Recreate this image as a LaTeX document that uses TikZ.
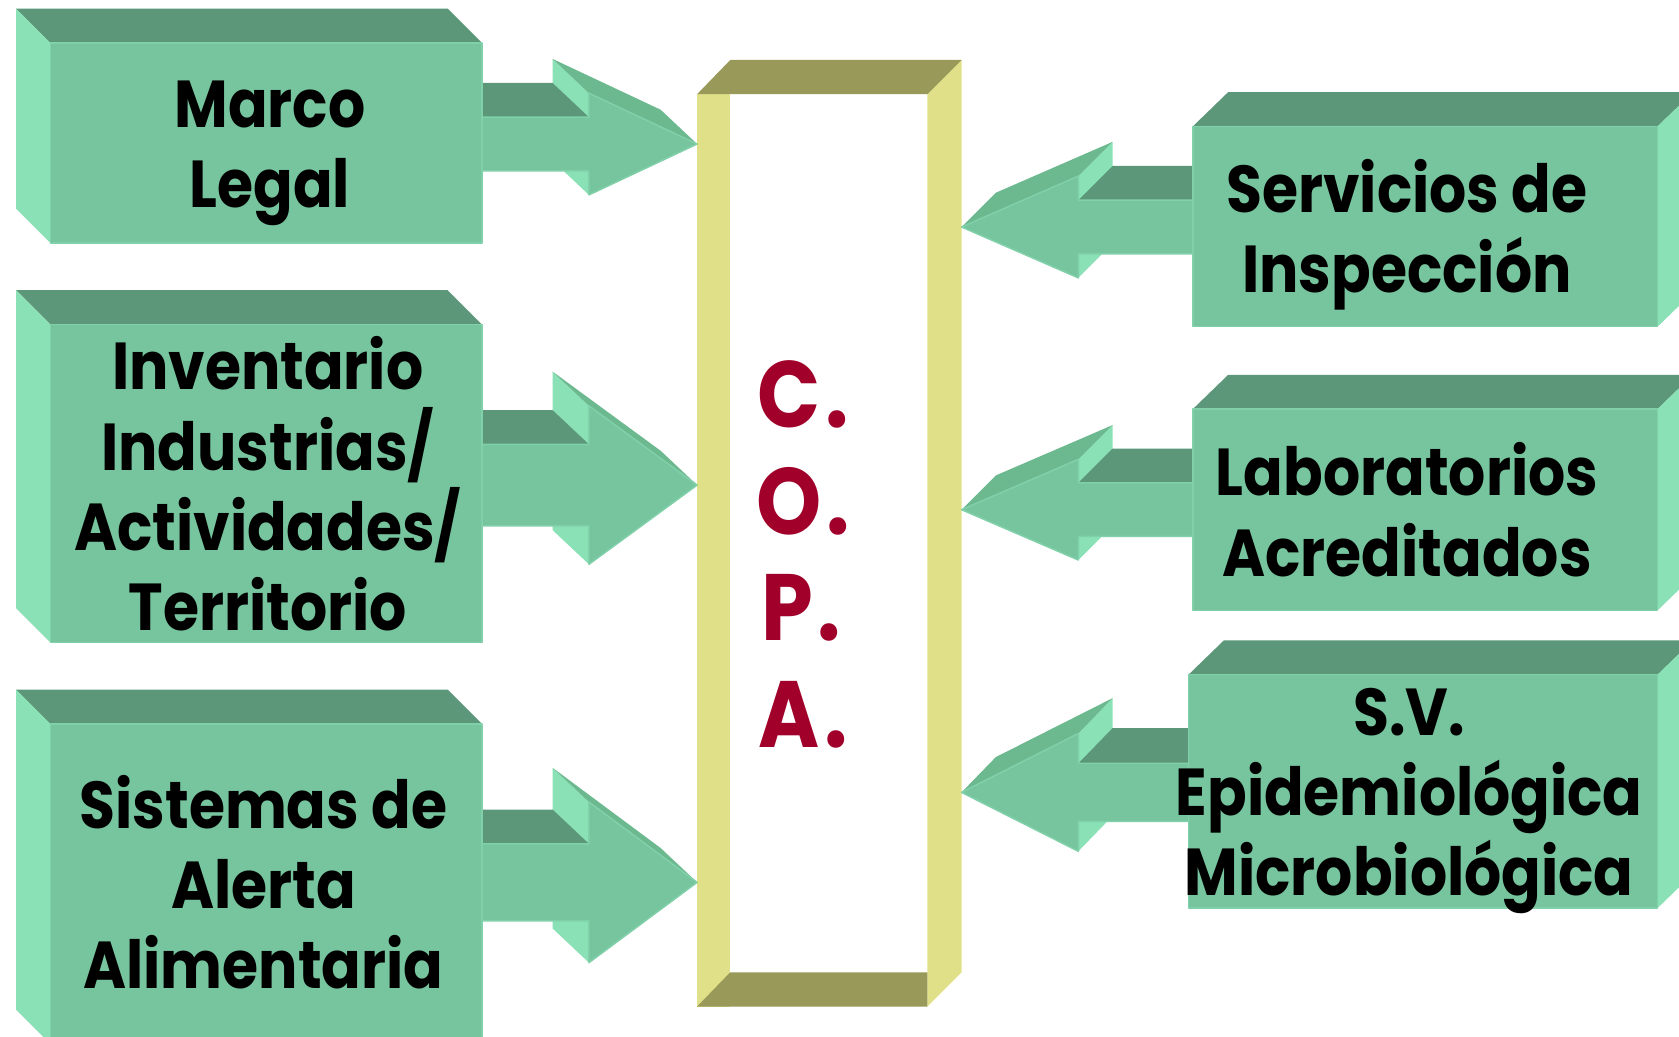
\documentclass[tikz,border=0pt]{standalone}
\usepackage{fontspec}
\setmainfont{Poppins}[FakeStretch=0.88]
\definecolor{gfront}{HTML}{76C59E}
\definecolor{gtop}{HTML}{5C977A}
\definecolor{gside}{HTML}{8AE1B6}
\definecolor{ghead}{HTML}{6CB990}
\definecolor{gedge}{HTML}{80D0A9}
\definecolor{ypost}{HTML}{E0E088}
\definecolor{yolive}{HTML}{999959}
\definecolor{copared}{HTML}{A0002A}
\tikzset{
  frontface/.style={fill=gfront,draw=gedge,line width=0.7pt,line join=round},
  topface/.style={fill=gtop},
  sideface/.style={fill=gside},
  headface/.style={fill=ghead},
  boxtext/.style={font=\fontsize{31}{37.5}\selectfont\bfseries,align=center,text=black,inner sep=0pt},
  copatext/.style={font=\fontsize{44}{50}\selectfont\bfseries,text=copared,inner sep=0pt}
}
% arrow: x0, xb (barb x), xt (tip x), yc, shaft half, head half, dx, dy
\newcommand{\arrowthreed}[8]{%
  \fill[sideface] (#2,{#4-#6}) -- (#2,{#4+#6}) -- ({#2+#7},{#4+#6+#8}) -- ({#2+#7},{#4-#6+#8}) -- cycle;
  \fill[topface] (#1,{#4-#5}) -- (#2,{#4-#5}) -- ({#2+#7},{#4-#5+#8}) -- ({#1+#7},{#4-#5+#8}) -- cycle;
  \fill[headface] (#2,{#4-#6}) -- (#3,#4) -- ({#3+#7},{#4+#8}) -- ({#2+#7},{#4-#6+#8}) -- cycle;
  \filldraw[frontface] (#1,{#4-#5}) -- (#2,{#4-#5}) -- (#2,{#4-#6}) -- (#3,#4) -- (#2,{#4+#6}) -- (#2,{#4+#5}) -- (#1,{#4+#5}) -- cycle;
}
% box with left side: x1,y1,x2,y2,dx,dy
\newcommand{\boxleftthreed}[6]{%
  \fill[topface] (#1,#2) -- (#3,#2) -- ({#3+#5},{#2+#6}) -- ({#1+#5},{#2+#6}) -- cycle;
  \fill[sideface] (#1,#2) -- (#1,#4) -- ({#1+#5},{#4+#6}) -- ({#1+#5},{#2+#6}) -- cycle;
  \filldraw[frontface] (#1,#2) rectangle (#3,#4);
}
\newcommand{\boxrightthreed}[6]{%
  \fill[topface] (#1,#2) -- (#3,#2) -- ({#3+#5},{#2+#6}) -- ({#1+#5},{#2+#6}) -- cycle;
  \fill[sideface] (#3,#2) -- (#3,#4) -- ({#3+#5},{#4+#6}) -- ({#3+#5},{#2+#6}) -- cycle;
  \filldraw[frontface] (#1,#2) rectangle (#3,#4);
}
\begin{document}
\begin{tikzpicture}[x=0.5pt,y=-0.5pt]
\useasboundingbox (0,0) rectangle (1568,968);
\clip (0,0) rectangle (1568,968);
\fill[white] (0,0) rectangle (1568,968);

% central C.O.P.A. frame
\fill[ypost] (651,88) rectangle (682,940);
\fill[ypost] (866,88) -- (898,56) -- (898,908) -- (866,940) -- cycle;
\fill[yolive] (651,88) -- (682,56) -- (898,56) -- (866,88) -- cycle;
\fill[yolive] (651,940) -- (682,908) -- (866,908) -- (866,940) -- cycle;

% arrows on the left (pointing right)
\arrowthreed{450}{550}{651}{134.5}{25}{47.5}{-34}{-32}
\arrowthreed{450}{550}{651}{453}{38}{74}{-34}{-32}
\arrowthreed{450}{550}{651}{824}{36}{75}{-34}{-32}
% arrows on the right (pointing left)
\arrowthreed{1114}{1007}{898}{212}{25}{47.5}{32}{-32}
\arrowthreed{1114}{1007}{898}{476}{25}{47}{32}{-32}
\arrowthreed{1110}{1007}{898}{740}{27}{55}{32}{-33}

% boxes on the left
\boxleftthreed{47}{40}{450}{227}{-32}{-32}
\boxleftthreed{47}{303}{450}{600}{-32}{-32}
\boxleftthreed{47}{676}{450}{975}{-32}{-32}
% boxes on the right
\boxrightthreed{1114}{118}{1548}{305}{33}{-32}
\boxrightthreed{1114}{382}{1548}{570}{33}{-32}
\boxrightthreed{1110}{630}{1548}{848}{33}{-32}

% texts
\node[boxtext] (marco) at (252,143) {Marco\\Legal};
\node[boxtext] (inventario) at (250,452) {Inventario\\Industrias/\\Actividades/\\Territorio};
\node[boxtext] (sistemas) at (246,824) {Sistemas de\\Alerta\\Alimentaria};
\node[boxtext] (servicios) at (1314,219) {Servicios de\\Inspección};
\node[boxtext] (laboratorios) at (1314,476) {Laboratorios\\Acreditados};
\node[boxtext] (sv) at (1316,748) {S.V.\\Epidemiológica\\Microbiológica};

\node[copatext] (c) at (750,368) {C\kern2pt.};
\node[copatext] (o) at (750,468) {O\kern2pt.};
\node[copatext] (p) at (748,568) {P\kern2pt.};
\node[copatext] (a) at (750,668) {A\kern2pt.};
\end{tikzpicture}
\end{document}
